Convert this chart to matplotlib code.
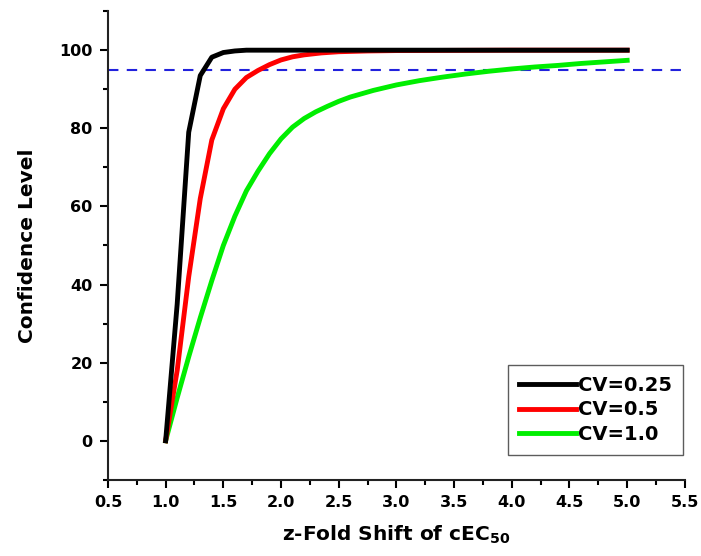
import matplotlib
matplotlib.use('Agg')
import matplotlib.pyplot as plt
from matplotlib.ticker import MultipleLocator

plt.rcParams['font.family'] = ['DejaVu Sans']
plt.rcParams['font.weight'] = 'bold'
plt.rcParams['mathtext.fontset'] = 'custom'
plt.rcParams['mathtext.rm'] = 'DejaVu Sans:bold'
plt.rcParams['mathtext.bf'] = 'DejaVu Sans:bold'
plt.rcParams['mathtext.default'] = 'bf'

x_025 = [1.0, 1.1, 1.2, 1.3, 1.4, 1.5, 1.6, 1.7, 2.0, 3.0, 4.0, 5.0]
y_025 = [0, 35, 79, 93.5, 98.2, 99.4, 99.8, 100, 100, 100, 100, 100]

x_05 = [1.0, 1.1, 1.2, 1.3, 1.4, 1.5, 1.6, 1.7, 1.8, 1.9, 2.0, 2.1, 2.2, 2.35,
        2.5, 2.75, 3.0, 4.0, 5.0]
y_05 = [0, 18, 42, 62, 77, 85, 90, 93, 94.8, 96.3, 97.5, 98.3, 98.8, 99.3,
        99.6, 99.8, 99.9, 100, 100]

x_10 = [1.0, 1.1, 1.2, 1.3, 1.4, 1.5, 1.6, 1.7, 1.8, 1.9, 2.0, 2.1, 2.2, 2.3,
        2.4, 2.5, 2.6, 2.8, 3.0, 3.2, 3.4, 3.6, 3.8, 4.0, 4.2, 4.4, 4.6, 4.8, 5.0]
y_10 = [0, 11, 21.5, 31.5, 41, 50, 57.5, 64, 69, 73.5, 77.3, 80.3, 82.5, 84.2,
        85.6, 86.9, 88, 89.7, 91.1, 92.2, 93.1, 93.9, 94.6, 95.2, 95.7, 96.1,
        96.6, 97, 97.4]

labels = ['CV=0.25', 'CV=0.5', 'CV=1.0']
colors = ['#000000', '#ff0000', '#00ee00']
threshold = 95

fig = plt.figure(figsize=(7.01, 5.56), dpi=100)
ax = fig.add_axes([0.154, 0.137, 0.823, 0.843])

ax.axhline(threshold, color='#2222dd', lw=1.5, ls=(0, (5, 4)), zorder=1)
ax.plot(x_025, y_025, color=colors[0], lw=3.5, label=labels[0], zorder=4)
ax.plot(x_05, y_05, color=colors[1], lw=3.5, label=labels[1], zorder=3)
ax.plot(x_10, y_10, color=colors[2], lw=3.5, label=labels[2], zorder=2)

ax.set_xlim(0.5, 5.5)
ax.set_ylim(-10, 110)
ax.xaxis.set_major_locator(MultipleLocator(0.5))
ax.xaxis.set_minor_locator(MultipleLocator(0.25))
ax.yaxis.set_major_locator(MultipleLocator(20))
ax.yaxis.set_minor_locator(MultipleLocator(10))
ax.set_yticks([0, 20, 40, 60, 80, 100])
ax.tick_params(which='major', length=6, width=1.5, labelsize=11.5, pad=5)
ax.tick_params(which='minor', length=3.5, width=1.5)
ax.spines['top'].set_visible(False)
ax.spines['right'].set_visible(False)
for s in ['left', 'bottom']:
    ax.spines[s].set_linewidth(1.5)
    ax.spines[s].set_color('#222222')

ax.set_xlabel('z-Fold Shift of cEC$_{50}$', fontsize=14.5, fontweight='bold', labelpad=10)
ax.set_ylabel('Confidence Level', fontsize=14.5, fontweight='bold', labelpad=16)

leg = ax.legend(loc='lower right', bbox_to_anchor=(0.997, 0.053), fontsize=14,
                frameon=True, fancybox=False, handlelength=2.9, handletextpad=0.15,
                borderpad=0.55, labelspacing=0.3, borderaxespad=0)
leg.get_frame().set_edgecolor('#333333')
leg.get_frame().set_linewidth(1.0)

fig.savefig('out.png', dpi=100)
